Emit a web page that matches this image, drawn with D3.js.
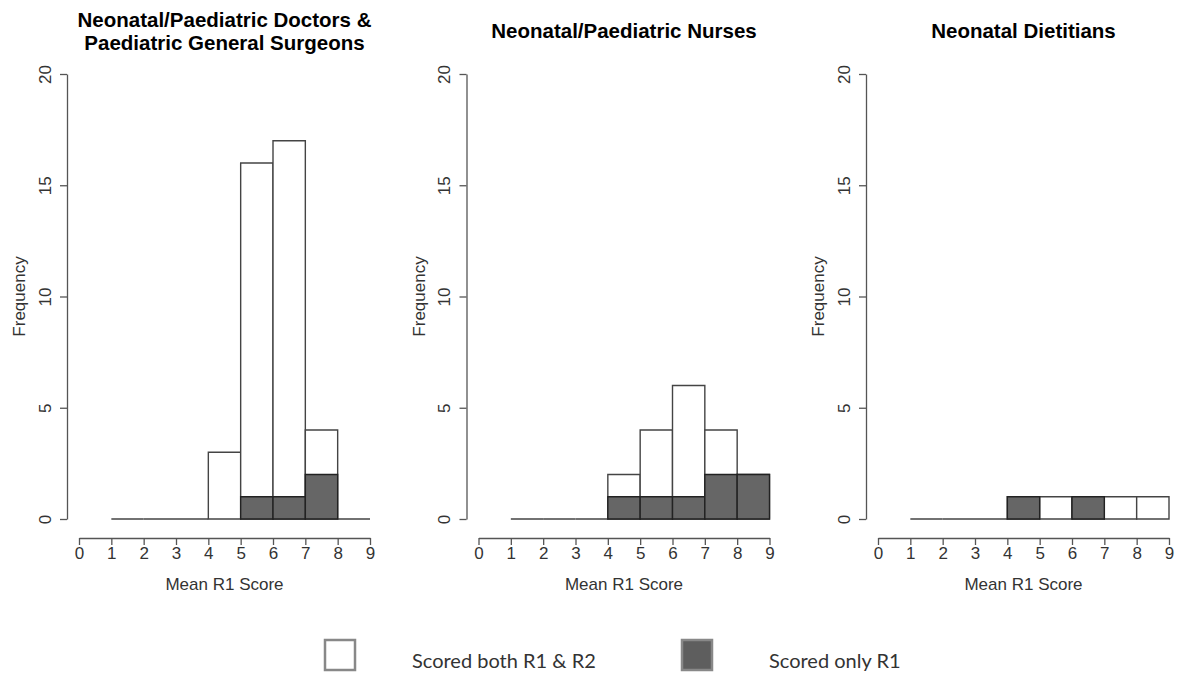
<!DOCTYPE html>
<html>
<head>
<meta charset="utf-8">
<script src="https://cdn.jsdelivr.net/npm/d3@7"></script>
<style>
  body { margin: 0; background: #fff; }
  svg { display: block; }
  .tick text { font-family: "Liberation Sans", Arial, sans-serif; font-size: 17px; fill: #333; }
  .axis path, .axis line { stroke: #555; stroke-width: 1.3; }
  .axis-label { font-family: "Liberation Sans", Arial, sans-serif; font-size: 17px; fill: #333; }
  .title { font-family: "Liberation Sans", Arial, sans-serif; font-size: 20.5px; font-weight: bold; fill: #000; }
  .legend-text { font-family: Lato, "Open Sans", sans-serif; font-size: 20px; fill: #333; }
</style>
</head>
<body>
<svg id="chart" width="1178" height="675"></svg>
<script>
// histogram bin edges (Mean R1 Score)
const breaks = [1, 2, 3, 4, 5, 6, 7, 8, 9];
const xTicks = [0, 1, 2, 3, 4, 5, 6, 7, 8, 9];
const yTicks = [0, 5, 10, 15, 20];

const panelTitles = [
    ['Neonatal/Paediatric Doctors &', 'Paediatric General Surgeons'],
    ['Neonatal/Paediatric Nurses'],
    ['Neonatal Dietitians']
];

// counts per bin: everyone (R1 & R2) and R1-only overlay
const totalCounts = [
    [0, 0, 0, 3, 16, 17, 4, 0],
    [0, 0, 0, 2, 4, 6, 4, 2],
    [0, 0, 0, 1, 1, 1, 1, 1]
];
const r1OnlyCounts = [
    [0, 0, 0, 0, 1, 1, 2, 0],
    [0, 0, 0, 1, 1, 1, 2, 2],
    [0, 0, 0, 1, 0, 1, 0, 0]
];

const legendLabels = ['Scored both R1 & R2', 'Scored only R1'];
const colors = { both: '#ffffff', only: '#666666' };

const svg = d3.select('#chart');

const panelStep = 399.5;
const xScale = d3.scaleLinear().domain([0, 9]).range([79, 370]);
const yScale = d3.scaleLinear().domain([0, 20]).range([519, 74]);

const binPath = (x0, x1, count) =>
    `M${xScale(x0)},${yScale(0)}V${yScale(count)}H${xScale(x1)}V${yScale(0)}Z`;

panelTitles.forEach((title, p) => {
    const g = svg.append('g')
        .attr('transform', `translate(${p * panelStep},0)`);

    // y axis
    const yAxisG = g.append('g')
        .attr('class', 'axis')
        .attr('transform', `translate(67,0)`)
        .call(d3.axisLeft(yScale).tickValues(yTicks).tickSize(7).tickSizeOuter(0));
    yAxisG.selectAll('.tick text')
        .attr('transform', 'rotate(-90)')
        .attr('x', 0)
        .attr('y', -22)
        .attr('dy', '0.35em')
        .attr('text-anchor', 'middle');

    g.append('text')
        .attr('class', 'axis-label')
        .attr('transform', `translate(25,${(yScale(0) + yScale(20)) / 2}) rotate(-90)`)
        .attr('text-anchor', 'middle')
        .text('Frequency');

    // x axis
    const xAxisG = g.append('g')
        .attr('class', 'axis')
        .attr('transform', `translate(0,538)`)
        .call(d3.axisBottom(xScale).tickValues(xTicks).tickSize(7).tickSizeOuter(0));
    xAxisG.selectAll('.tick text').attr('y', 9);

    g.append('text')
        .attr('class', 'axis-label')
        .attr('x', (xScale(0) + xScale(9)) / 2)
        .attr('y', 590)
        .attr('text-anchor', 'middle')
        .text('Mean R1 Score');

    // title
    const tLines = g.append('text')
        .attr('class', 'title')
        .attr('text-anchor', 'middle');
    title.forEach((line, i) => {
        tLines.append('tspan')
            .attr('x', (xScale(0) + xScale(9)) / 2)
            .attr('y', title.length === 1 ? 38 : 27 + i * 23)
            .text(line);
    });

    const bins = breaks.slice(0, -1).map((b, i) => ({
        x0: b, x1: breaks[i + 1],
        total: totalCounts[p][i],
        only: r1OnlyCounts[p][i]
    }));

    g.selectAll('.bar-both').data(bins).enter().append('path')
        .attr('class', 'bar-both')
        .attr('d', d => binPath(d.x0, d.x1, d.total))
        .attr('fill', colors.both)
        .attr('stroke', '#444')
        .attr('stroke-width', 1.4);

    g.selectAll('.bar-only').data(bins.filter(d => d.only > 0)).enter().append('path')
        .attr('class', 'bar-only')
        .attr('d', d => binPath(d.x0, d.x1, d.only))
        .attr('fill', colors.only)
        .attr('stroke', '#222')
        .attr('stroke-width', 1.4);
});

// legend
const legend = svg.append('g');
const legendX = [325, 682];
const legendTextX = [412, 769];
legendLabels.forEach((lab, i) => {
    legend.append('rect')
        .attr('x', legendX[i])
        .attr('y', 640)
        .attr('width', 30)
        .attr('height', 30)
        .attr('fill', i === 0 ? colors.both : '#5e5e5e')
        .attr('stroke', '#888')
        .attr('stroke-width', 2.5);
    legend.append('text')
        .attr('class', 'legend-text')
        .attr('x', legendTextX[i])
        .attr('y', 668)
        .text(lab);
});
</script>
</body>
</html>
